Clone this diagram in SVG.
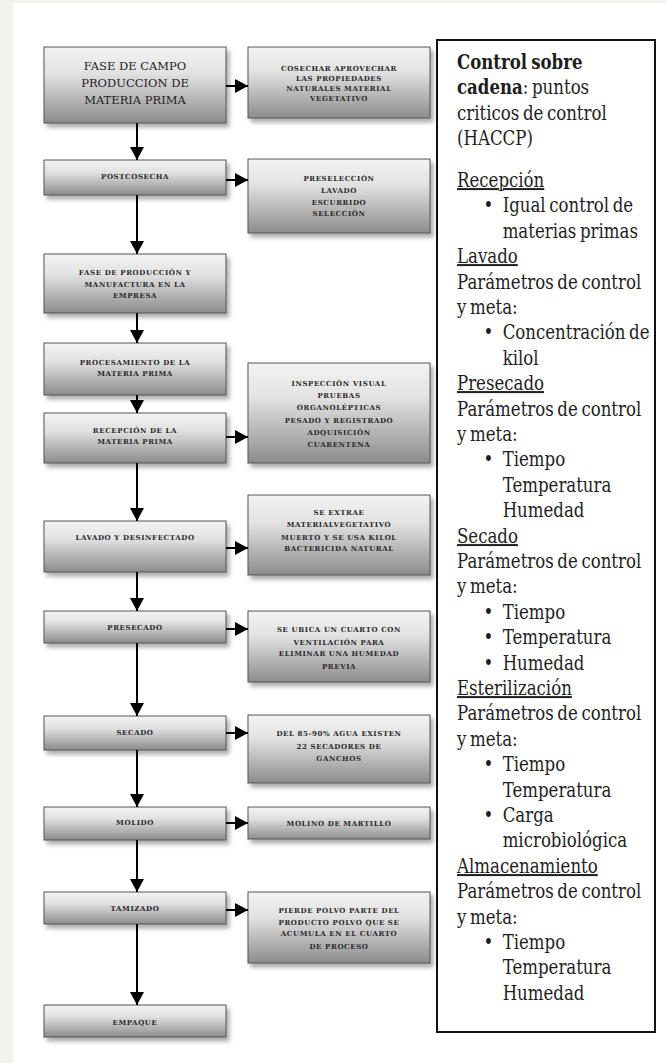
<svg xmlns="http://www.w3.org/2000/svg" width="667" height="1063" viewBox="0 0 667 1063">
<defs>
<linearGradient id="gb" x1="0" y1="0" x2="0" y2="1">
<stop offset="0" stop-color="#f3f3f3"/>
<stop offset="0.35" stop-color="#e2e2e2"/>
<stop offset="1" stop-color="#8c8c8c"/>
</linearGradient>
<filter id="sh" x="-10%" y="-10%" width="130%" height="140%">
<feDropShadow dx="3" dy="4" stdDeviation="2" flood-color="#777" flood-opacity="0.6"/>
</filter>
<marker id="ah" markerUnits="userSpaceOnUse" markerWidth="13" markerHeight="14" refX="13" refY="7" orient="auto">
<path d="M0,0 L13,7 L0,14 z" fill="#000"/>
</marker>
</defs>
<style>
.box{fill:url(#gb);stroke:#555;stroke-width:1;filter:url(#sh)}
.big{font-size:11.5px;fill:#222;text-anchor:middle}
.sm{font-weight:bold;font-size:7px;letter-spacing:0.6px;fill:#2a2a2a;text-anchor:middle}
.cn line{stroke:#000;stroke-width:2;marker-end:url(#ah)}
.h{font-size:20px;fill:#1e1e1e;word-spacing:-2px}
.u{text-decoration:underline}
</style>
<rect x="0" y="0" width="667" height="1063" fill="#ffffff"/>
<rect x="0" y="0" width="13" height="1063" fill="#f3f2ee"/>
<rect x="0" y="0" width="667" height="3" fill="#f3f2ee"/>

<g id="nodes" font-family="'DejaVu Serif', serif">
<g id="n1"><rect class="box" x="44" y="47" width="182" height="76"/>
<text class="big" x="135" y="70">FASE DE CAMPO</text><text class="big" x="135" y="87">PRODUCCION DE</text><text class="big" x="135" y="104">MATERIA PRIMA</text></g>
<g id="r1"><rect class="box" x="248" y="47" width="182" height="71"/>
<text class="sm" x="339" y="71">COSECHAR  APROVECHAR</text><text class="sm" x="339" y="81">LAS PROPIEDADES</text><text class="sm" x="339" y="91">NATURALES MATERIAL</text><text class="sm" x="339" y="101">VEGETATIVO</text></g>

<g id="n2"><rect class="box" x="44" y="160" width="182" height="35"/>
<text class="sm" x="135" y="179">POSTCOSECHA</text></g>
<g id="r2"><rect class="box" x="248" y="159" width="182" height="74"/>
<text class="sm" x="339" y="181">PRESELECCIÓN</text><text class="sm" x="339" y="193">LAVADO</text><text class="sm" x="339" y="205">ESCURRIDO</text><text class="sm" x="339" y="216">SELECCIÓN</text></g>

<g id="n3"><rect class="box" x="44" y="254" width="182" height="59"/>
<text class="sm" x="135" y="275">FASE DE PRODUCCIÓN Y</text><text class="sm" x="135" y="287">MANUFACTURA  EN LA</text><text class="sm" x="135" y="298">EMPRESA</text></g>

<g id="n4"><rect class="box" x="44" y="343" width="182" height="52"/>
<text class="sm" x="135" y="365">PROCESAMIENTO  DE LA</text><text class="sm" x="135" y="376">MATERIA  PRIMA</text></g>

<g id="n5"><rect class="box" x="44" y="413" width="182" height="50"/>
<text class="sm" x="135" y="433">RECEPCIÓN  DE LA</text><text class="sm" x="135" y="444">MATERIA  PRIMA</text></g>
<g id="r5"><rect class="box" x="248" y="363" width="182" height="100"/>
<text class="sm" x="339" y="386">INSPECCIÓN VISUAL</text><text class="sm" x="339" y="398">PRUEBAS</text><text class="sm" x="339" y="410">ORGANOLÉPTICAS</text><text class="sm" x="339" y="423">PESADO Y REGISTRADO</text><text class="sm" x="339" y="435">ADQUISICIÓN</text><text class="sm" x="339" y="447">CUARENTENA</text></g>

<g id="n6"><rect class="box" x="44" y="521" width="182" height="51"/>
<text class="sm" x="135" y="540">LAVADO Y DESINFECTADO</text></g>
<g id="r6"><rect class="box" x="248" y="495" width="182" height="80"/>
<text class="sm" x="339" y="515">SE EXTRAE</text><text class="sm" x="339" y="527">MATERIALVEGETATIVO</text><text class="sm" x="339" y="540">MUERTO  Y SE USA KILOL</text><text class="sm" x="339" y="551">BACTERICIDA   NATURAL</text></g>

<g id="n7"><rect class="box" x="44" y="611" width="182" height="32"/>
<text class="sm" x="135" y="630">PRESECADO</text></g>
<g id="r7"><rect class="box" x="248" y="611" width="182" height="71"/>
<text class="sm" x="339" y="632">SE UBICA UN CUARTO CON</text><text class="sm" x="339" y="645">VENTILACIÓN PARA</text><text class="sm" x="339" y="656">ELIMINAR  UNA HUMEDAD</text><text class="sm" x="339" y="669">PREVIA</text></g>

<g id="n8"><rect class="box" x="44" y="716" width="182" height="34"/>
<text class="sm" x="135" y="735">SECADO</text></g>
<g id="r8"><rect class="box" x="248" y="715" width="182" height="68"/>
<text class="sm" x="339" y="736">DEL 85-90% AGUA EXISTEN</text><text class="sm" x="339" y="749">22 SECADORES DE</text><text class="sm" x="339" y="761">GANCHOS</text></g>

<g id="n9"><rect class="box" x="44" y="807" width="182" height="33"/>
<text class="sm" x="135" y="825">MOLIDO</text></g>
<g id="r9"><rect class="box" x="248" y="807" width="182" height="32"/>
<text class="sm" x="339" y="826">MOLINO DE MARTILLO</text></g>

<g id="n10"><rect class="box" x="44" y="892" width="182" height="32"/>
<text class="sm" x="135" y="911">TAMIZADO</text></g>
<g id="r10"><rect class="box" x="248" y="892" width="182" height="71"/>
<text class="sm" x="339" y="913">PIERDE POLVO PARTE DEL</text><text class="sm" x="339" y="925">PRODUCTO  POLVO QUE SE</text><text class="sm" x="339" y="936">ACUMULA  EN EL CUARTO</text><text class="sm" x="339" y="949">DE PROCESO</text></g>

<g id="n11"><rect class="box" x="44" y="1005" width="182" height="32"/>
<text class="sm" x="135" y="1025">EMPAQUE</text></g>
</g>

<g id="connectors" class="cn">
<line x1="137" y1="123" x2="137" y2="160"/>
<line x1="137" y1="195" x2="137" y2="254"/>
<line x1="137" y1="313" x2="137" y2="343"/>
<line x1="137" y1="395" x2="137" y2="413"/>
<line x1="137" y1="463" x2="137" y2="521"/>
<line x1="137" y1="572" x2="137" y2="611"/>
<line x1="137" y1="643" x2="137" y2="716"/>
<line x1="137" y1="750" x2="137" y2="807"/>
<line x1="137" y1="840" x2="137" y2="892"/>
<line x1="137" y1="924" x2="137" y2="1005"/>
<line x1="226" y1="86" x2="248" y2="86"/>
<line x1="226" y1="180" x2="248" y2="180"/>
<line x1="226" y1="437" x2="248" y2="437"/>
<line x1="226" y1="548" x2="248" y2="548"/>
<line x1="226" y1="629" x2="248" y2="629"/>
<line x1="226" y1="733" x2="248" y2="733"/>
<line x1="226" y1="823" x2="248" y2="823"/>
<line x1="226" y1="910" x2="248" y2="910"/>
</g>

<g id="haccp">
<rect x="437" y="40" width="218" height="992" fill="#fff" stroke="#111" stroke-width="2"/>
<g transform="translate(457 0) scale(0.83 1)" font-family="'DejaVu Serif', serif">
<text class="h" x="0" y="69" font-weight="bold">Control sobre</text>
<text class="h" x="0" y="94"><tspan font-weight="bold">cadena</tspan>: puntos</text>
<text class="h" x="0" y="120">criticos de control</text>
<text class="h" x="0" y="145">(HACCP)</text>
<text class="h u" x="0" y="187">Recepción</text>
<text class="h" x="32" y="212">•</text><text class="h" x="55" y="212">Igual control de</text>
<text class="h" x="55" y="238">materias primas</text>
<text class="h u" x="0" y="263">Lavado</text>
<text class="h" x="0" y="289">Parámetros de control</text>
<text class="h" x="0" y="314">y meta:</text>
<text class="h" x="32" y="339">•</text><text class="h" x="55" y="339">Concentración de</text>
<text class="h" x="55" y="365">kilol</text>
<text class="h u" x="0" y="390">Presecado</text>
<text class="h" x="0" y="416">Parámetros de control</text>
<text class="h" x="0" y="441">y meta:</text>
<text class="h" x="32" y="466">•</text><text class="h" x="55" y="466">Tiempo</text>
<text class="h" x="55" y="492">Temperatura</text>
<text class="h" x="55" y="517">Humedad</text>
<text class="h u" x="0" y="543">Secado</text>
<text class="h" x="0" y="568">Parámetros de control</text>
<text class="h" x="0" y="593">y meta:</text>
<text class="h" x="32" y="619">•</text><text class="h" x="55" y="619">Tiempo</text>
<text class="h" x="32" y="644">•</text><text class="h" x="55" y="644">Temperatura</text>
<text class="h" x="32" y="670">•</text><text class="h" x="55" y="670">Humedad</text>
<text class="h u" x="0" y="695">Esterilización</text>
<text class="h" x="0" y="720">Parámetros de control</text>
<text class="h" x="0" y="746">y meta:</text>
<text class="h" x="32" y="771">•</text><text class="h" x="55" y="771">Tiempo</text>
<text class="h" x="55" y="797">Temperatura</text>
<text class="h" x="32" y="822">•</text><text class="h" x="55" y="822">Carga</text>
<text class="h" x="55" y="847">microbiológica</text>
<text class="h u" x="0" y="873">Almacenamiento</text>
<text class="h" x="0" y="898">Parámetros de control</text>
<text class="h" x="0" y="924">y meta:</text>
<text class="h" x="32" y="949">•</text><text class="h" x="55" y="949">Tiempo</text>
<text class="h" x="55" y="974">Temperatura</text>
<text class="h" x="55" y="1000">Humedad</text>
</g>
</g>
</svg>
